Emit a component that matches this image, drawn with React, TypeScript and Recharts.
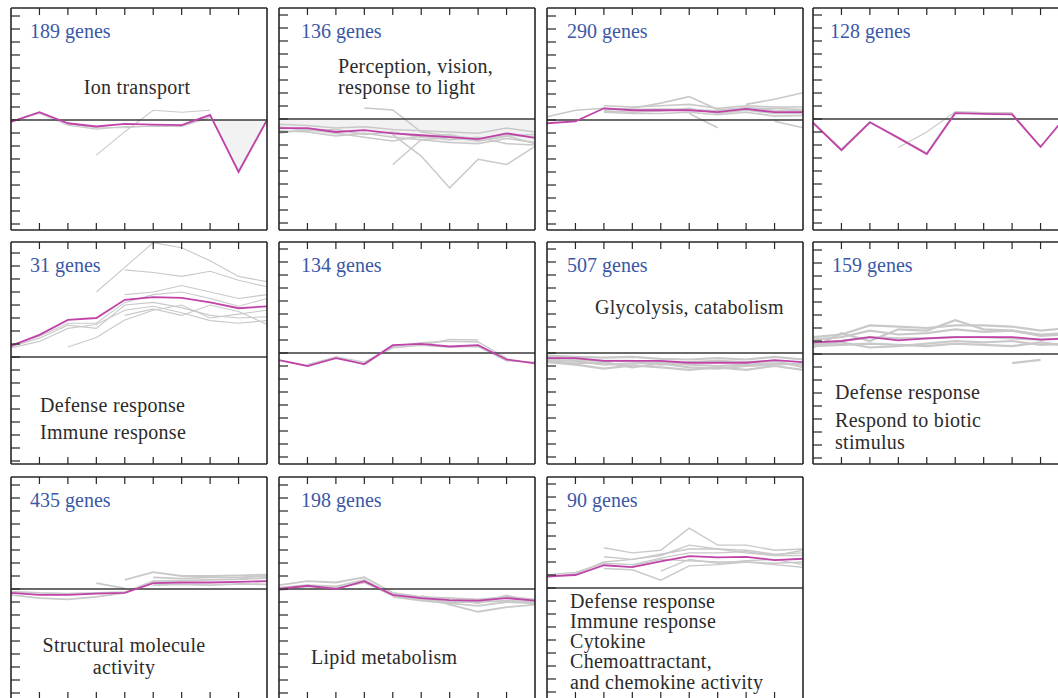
import { Area, ComposedChart, Line, ReferenceLine, XAxis, YAxis } from 'recharts';

// time points shared by every panel (x axis 0..9, ticks 1..8 inside)
const TIMEPOINTS = [0, 1, 2, 3, 4, 5, 6, 7, 8, 9];
const X_TICKS = [1, 2, 3, 4, 5, 6, 7, 8];
const Y_TICKS = [-8, -7, -6, -5, -4, -3, -2, -1, 0, 1, 2, 3, 4, 5, 6, 7, 8];

const PLOT_W = 256;
const PLOT_H = 222;
const UNIT = 13; // px per y tick step

const MEAN_COLOR = '#c043a8';
const GREY = '#c9c9c9';
const BLUE = '#3b58a7';
const INK = '#2b2b2b';
const FONT = '"Liberation Serif", "Times New Roman", serif';

// --- 189 genes: ion transport
const ionMean = [-0.15, 0.6, -0.25, -0.5, -0.3, -0.35, -0.4, 0.4, -4.0, 0];
const ionGrey = [
  [-0.1, 0.5, -0.4, -0.7, -0.5, -0.5, -0.5, 0.3, -3.9, 0.05],
  [null, null, null, -2.7, -0.9, 0.75, 0.6, 0.75, null, null],
  [null, null, -0.3, -0.6, -0.6, -0.45, -0.5, 0.2, null, null],
];
const ionShade = [null, null, null, null, null, null, null, 0.4, -4.0, 0];

// --- 136 genes: perception
const visionMean = [-0.7, -0.7, -1.0, -0.85, -1.1, -1.25, -1.4, -1.55, -1.1, -1.45];
const visionGrey = [
  [-0.4, -0.5, -0.7, -0.6, -0.8, -0.9, -1.0, -1.1, -0.7, -1.0],
  [-0.9, -1.0, -1.3, -1.1, -1.4, -1.6, -1.8, -1.9, -1.5, -1.8],
  [-0.6, -0.9, -0.8, -1.2, -1.0, -1.4, -1.2, -1.7, -1.3, -1.2],
  [-1.1, -0.8, -1.1, -1.4, -1.7, -1.3, -1.6, -1.4, -1.9, -2.0],
  [null, null, null, 0.85, 0.7, -1.0, -1.3, -1.5, -1.2, -1.4],
  [null, null, null, null, -1.2, -2.85, -5.3, -3.1, -3.5, -2.1],
  [null, null, null, null, -3.5, -1.6, -1.4, -1.7, -1.3, -1.9],
];
const visionShade = [-0.9, -1.0, -1.3, -1.1, -1.4, -1.6, -1.8, -1.9, -1.5, -1.8];

// --- 290 genes
const g290Mean = [-0.25, -0.1, 0.9, 0.75, 0.75, 0.75, 0.6, 0.85, 0.6, 0.6];
const g290Grey = [
  [0.25, 0.75, 0.9, 0.8, 0.85, 0.8, 0.7, 0.95, 0.75, 0.7],
  [null, null, 1.1, 1.0, 1.1, 1.2, 0.9, 1.1, 1.0, 1.0],
  [null, null, 0.6, 0.5, 0.5, 0.6, 0.4, 0.6, 0.3, 0.35],
  [null, null, 0.8, 0.9, 1.3, 1.8, 0.8, 0.9, 0.9, 0.8],
  [null, null, null, null, null, 0.5, -0.6, null, null, null],
  [null, null, null, null, null, null, null, 1.2, 1.6, 2.1],
  [null, null, null, null, null, null, null, null, -0.1, -0.6],
  [null, null, 0.7, 0.6, 0.7, 0.9, 0.5, 0.75, 0.5, 0.5],
];

// --- 128 genes
const g128Mean = [-0.3, -2.4, -0.25, -1.45, -2.7, 0.45, 0.4, 0.35, -2.15, 0.5];
const g128Grey = [
  [null, null, null, -2.2, -1.0, 0.55, 0.5, 0.5, null, null],
  [-0.2, -2.3, -0.2, -1.4, -2.6, 0.55, 0.5, 0.45, -2.1, 0.5],
];

// --- 31 genes: defense / immune
const g31Mean = [0.85, 1.7, 2.85, 3.0, 4.4, 4.6, 4.55, 4.2, 3.75, 3.9];
const g31Grey = [
  [null, null, null, 5.0, 6.9, 8.8, 8.4, 7.4, 6.2, 5.8],
  [null, null, null, null, 6.7, 6.5, 6.2, 6.6, 5.9, 5.4],
  [0.8, 1.45, 2.45, 2.2, 4.0, 4.2, 3.8, 3.2, 3.0, 3.1],
  [null, null, 0.77, 1.5, 2.85, 3.6, 4.0, 3.0, 3.3, 3.6],
  [0.9, 1.6, 2.6, 2.6, 4.2, 4.8, 5.0, 4.5, 3.9, 4.5],
  [null, null, null, null, 4.8, 5.0, 5.5, 5.0, 4.5, 4.8],
  [0.7, 1.2, 2.2, 2.5, 3.6, 3.9, 3.4, 2.8, 2.6, 2.8],
  [null, null, null, null, 3.2, 3.7, 3.2, 4.0, 3.5, 2.5],
];

// --- 134 genes
const g134Mean = [-0.55, -1.0, -0.4, -0.85, 0.6, 0.7, 0.5, 0.6, -0.5, -0.8];
const g134Grey = [
  [null, null, -0.3, -0.9, 0.5, 0.8, 0.9, 0.85, -0.4, null],
  [null, null, null, null, null, 0.6, 1.05, 1.0, null, null],
  [null, -0.9, -0.3, -0.7, 0.4, 0.6, 0.45, 0.5, -0.6, -0.7],
];

// --- 507 genes: glycolysis
const g507Mean = [-0.4, -0.4, -0.6, -0.6, -0.6, -0.75, -0.75, -0.75, -0.55, -0.7];
const g507Grey = [
  [-0.2, -0.3, -0.35, -0.3, -0.45, -0.5, -0.4, -0.5, -0.3, -0.5],
  [-0.7, -0.9, -1.2, -0.95, -1.1, -1.3, -1.1, -1.3, -1.0, -1.3],
  [-0.5, -0.6, -0.9, -0.8, -0.7, -0.9, -1.0, -0.9, -0.8, -0.9],
  [-0.3, -0.5, -0.6, -0.6, -0.9, -0.7, -0.6, -0.7, -0.6, -1.1],
  [-0.6, -0.8, -0.7, -1.1, -0.8, -1.1, -1.2, -1.0, -0.9, -0.8],
];

// --- 159 genes
const g159Mean = [0.9, 1.0, 1.3, 1.05, 1.2, 1.3, 1.3, 1.3, 1.1, 1.2];
const g159Grey = [
  [0.5, 1.6, 1.0, 1.9, 1.8, 2.6, 1.9, 1.8, 1.5, 1.6],
  [0.6, 0.7, 0.8, 0.7, 0.6, 0.8, 0.7, 0.6, 0.9, 0.6],
  [1.1, 1.3, 1.8, 1.5, 1.6, 1.9, 1.7, 1.8, 1.4, 1.5],
  [0.8, 1.0, 1.3, 1.2, 1.2, 1.3, 1.3, 1.2, 1.1, 1.2],
  [null, null, null, null, null, null, null, -0.7, -0.45, null],
  [0.7, 0.9, 0.5, 0.6, 0.8, 1.0, 0.9, 1.0, 0.7, 0.8],
  [1.3, 1.5, 2.2, 2.1, 2.0, 2.2, 2.2, 2.1, 1.8, 2.0],
];

// --- 435 genes: structural molecule
const g435Mean = [-0.3, -0.45, -0.45, -0.35, -0.3, 0.45, 0.5, 0.5, 0.55, 0.6];
const g435Grey = [
  [-0.45, -0.7, -0.8, -0.6, -0.3, null, null, null, null, null],
  [null, null, null, 0.45, 0.05, null, null, null, null, null],
  [null, null, null, null, 0.7, 1.3, 1.0, 1.0, 1.05, 1.1],
  [null, null, null, null, null, 0.9, 0.8, 0.9, 0.9, 1.0],
  [null, null, null, null, null, 0.3, 0.35, 0.3, 0.4, 0.35],
  [-0.2, -0.3, -0.35, -0.3, -0.25, 0.6, 0.65, 0.7, 0.75, 0.85],
];

// --- 198 genes: lipid metabolism
const g198Mean = [0, 0.25, 0, 0.6, -0.45, -0.7, -0.85, -0.9, -0.7, -0.9];
const g198Grey = [
  [0.3, 0.6, 0.5, 0.9, -0.3, -0.6, -0.7, -0.8, -0.6, -0.8],
  [null, null, null, null, -0.6, -0.9, -1.1, -1.3, -1.0, -1.1],
  [null, null, null, null, null, -0.5, -1.2, -1.75, -1.4, -1.2],
  [0.1, 0.3, 0.2, 0.7, -0.5, -0.8, -1.0, -1.0, -0.9, -1.0],
  [-0.1, 0.2, 0.1, 0.5, -0.5, -0.75, -0.7, -1.1, -0.5, -0.95],
];

// --- 90 genes: cytokine
const g90Mean = [0.9, 1.0, 1.75, 1.6, 2.05, 2.45, 2.35, 2.4, 2.15, 2.25];
const g90Grey = [
  [null, null, 3.1, 2.7, 2.9, 4.6, 3.3, 3.3, 2.9, 3.0],
  [0.8, 1.1, 2.0, 2.2, 2.6, 3.0, 3.0, 2.9, 2.6, 2.7],
  [null, null, 1.5, 1.4, 0.6, 1.7, 1.8, 2.0, 1.8, 1.6],
  [1.0, 1.2, 1.9, 1.8, 2.3, 2.7, 2.7, 2.8, 2.5, 2.5],
  [null, null, null, 1.7, 2.2, 2.1, 2.0, 2.0, 1.9, 2.0],
  [null, null, 2.4, 2.2, 2.5, 3.3, 3.0, 2.7, 2.5, 2.9],
  [null, null, null, null, 1.3, 2.2, 1.9, 2.1, 2.2, 1.8],
];

type Series = (number | null)[];

interface PanelSpec {
  left: number;
  top: number;
  zero: number; // px from plot top to the zero line
  mean: Series;
  greys: Series[];
  greyWidth: number;
  shade?: Series;
}

const PANELS: PanelSpec[] = [
  { left: 11, top: 8, zero: 112, mean: ionMean, greys: ionGrey, greyWidth: 1.1, shade: ionShade },
  { left: 279, top: 8, zero: 111, mean: visionMean, greys: visionGrey, greyWidth: 1.5, shade: visionShade },
  { left: 547, top: 8, zero: 112, mean: g290Mean, greys: g290Grey, greyWidth: 1.6 },
  { left: 813, top: 8, zero: 111, mean: g128Mean, greys: g128Grey, greyWidth: 1.1 },
  { left: 11, top: 242, zero: 115, mean: g31Mean, greys: g31Grey, greyWidth: 1.1 },
  { left: 279, top: 242, zero: 111, mean: g134Mean, greys: g134Grey, greyWidth: 1.4 },
  { left: 547, top: 242, zero: 111, mean: g507Mean, greys: g507Grey, greyWidth: 2.2 },
  { left: 813, top: 242, zero: 112, mean: g159Mean, greys: g159Grey, greyWidth: 2.2 },
  { left: 11, top: 477, zero: 112, mean: g435Mean, greys: g435Grey, greyWidth: 1.8 },
  { left: 279, top: 477, zero: 112, mean: g198Mean, greys: g198Grey, greyWidth: 1.8 },
  { left: 547, top: 477, zero: 111, mean: g90Mean, greys: g90Grey, greyWidth: 1.4 },
];

// text: [x, baseline y, text]
const COUNT_LABELS: [number, number, string][] = [
  [30, 38, '189 genes'],
  [301, 38, '136 genes'],
  [567, 38, '290 genes'],
  [830, 38, '128 genes'],
  [30, 272, '31 genes'],
  [301, 272, '134 genes'],
  [567, 272, '507 genes'],
  [832, 272, '159 genes'],
  [30, 507, '435 genes'],
  [301, 507, '198 genes'],
  [567, 507, '90 genes'],
];

const TERM_LABELS: [number, number, string, 'start' | 'middle'][] = [
  [137, 94, 'Ion transport', 'middle'],
  [338, 73, 'Perception, vision,', 'start'],
  [338, 94, 'response to light', 'start'],
  [40, 412, 'Defense response', 'start'],
  [40, 439, 'Immune response', 'start'],
  [595, 314, 'Glycolysis, catabolism', 'start'],
  [835, 399, 'Defense response', 'start'],
  [835, 427, 'Respond to biotic', 'start'],
  [835, 449, 'stimulus', 'start'],
  [124, 652, 'Structural molecule', 'middle'],
  [124, 674, 'activity', 'middle'],
  [311, 664, 'Lipid metabolism', 'start'],
  [570, 608, 'Defense response', 'start'],
  [570, 628, 'Immune response', 'start'],
  [570, 648, 'Cytokine', 'start'],
  [570, 668, 'Chemoattractant,', 'start'],
  [570, 689, 'and chemokine activity', 'start'],
];

const blank = () => '';
const axisLine = { stroke: '#262626', strokeWidth: 1.6 };
const tickLine = { stroke: '#262626', strokeWidth: 1.2 };

function Panel({ spec }: { spec: PanelSpec }) {
  const hi = spec.zero / UNIT;
  const lo = hi - PLOT_H / UNIT;
  const data = TIMEPOINTS.map((x, i) => {
    const row: Record<string, number | null> = { x, mean: spec.mean[i] };
    spec.greys.forEach((g, j) => {
      row[`g${j}`] = g[i];
    });
    if (spec.shade) row.shade = spec.shade[i];
    return row;
  });

  return (
    <div style={{ position: 'absolute', left: spec.left - 1, top: spec.top - 1 }}>
      <ComposedChart
        width={PLOT_W + 2}
        height={PLOT_H + 2}
        data={data}
        margin={{ top: 1, right: 1, bottom: 1, left: 1 }}
      >
        <XAxis
          xAxisId="b"
          dataKey="x"
          type="number"
          domain={[0, 9]}
          ticks={X_TICKS}
          orientation="bottom"
          mirror
          tickSize={7}
          tickFormatter={blank}
          axisLine={axisLine}
          tickLine={tickLine}
        />
        <XAxis
          xAxisId="t"
          dataKey="x"
          type="number"
          domain={[0, 9]}
          ticks={X_TICKS}
          orientation="top"
          mirror
          tickSize={7}
          tickFormatter={blank}
          axisLine={axisLine}
          tickLine={tickLine}
        />
        <YAxis
          yAxisId="l"
          type="number"
          domain={[lo, hi]}
          ticks={Y_TICKS}
          orientation="left"
          mirror
          tickSize={9}
          tickFormatter={blank}
          axisLine={axisLine}
          tickLine={tickLine}
        />
        <YAxis
          yAxisId="r"
          type="number"
          domain={[lo, hi]}
          orientation="right"
          mirror
          tick={false}
          tickLine={false}
          axisLine={axisLine}
        />
        {spec.shade && (
          <Area
            xAxisId="b"
            yAxisId="l"
            type="linear"
            dataKey="shade"
            stroke="none"
            fill="#f2f2f2"
            fillOpacity={1}
            isAnimationActive={false}
          />
        )}
        {spec.greys.map((_, j) => (
          <Line
            key={j}
            xAxisId="b"
            yAxisId="l"
            type="linear"
            dataKey={`g${j}`}
            stroke={GREY}
            strokeWidth={spec.greyWidth}
            dot={false}
            isAnimationActive={false}
          />
        ))}
        <ReferenceLine xAxisId="b" yAxisId="l" y={0} stroke="#3a3a3a" strokeWidth={1.4} />
        <Line
          xAxisId="b"
          yAxisId="l"
          type="linear"
          dataKey="mean"
          stroke={MEAN_COLOR}
          strokeWidth={1.8}
          dot={false}
          isAnimationActive={false}
        />
      </ComposedChart>
    </div>
  );
}

export default function App() {
  return (
    <div
      style={{
        position: 'absolute',
        left: 0,
        top: 0,
        width: 1058,
        height: 698,
        overflow: 'hidden',
        background: '#fff',
      }}
    >
      {PANELS.map((p, i) => (
        <Panel key={i} spec={p} />
      ))}
      <svg
        width={1058}
        height={698}
        style={{ position: 'absolute', left: 0, top: 0, pointerEvents: 'none' }}
      >
        {COUNT_LABELS.map(([x, y, t]) => (
          <text key={t} x={x} y={y} fill={BLUE} fontFamily={FONT} fontSize={20}>
            {t}
          </text>
        ))}
        {TERM_LABELS.map(([x, y, t, anchor], i) => (
          <text
            key={i}
            x={x}
            y={y}
            fill={INK}
            fontFamily={FONT}
            fontSize={20}
            letterSpacing={0.3}
            textAnchor={anchor}
          >
            {t}
          </text>
        ))}
      </svg>
    </div>
  );
}
